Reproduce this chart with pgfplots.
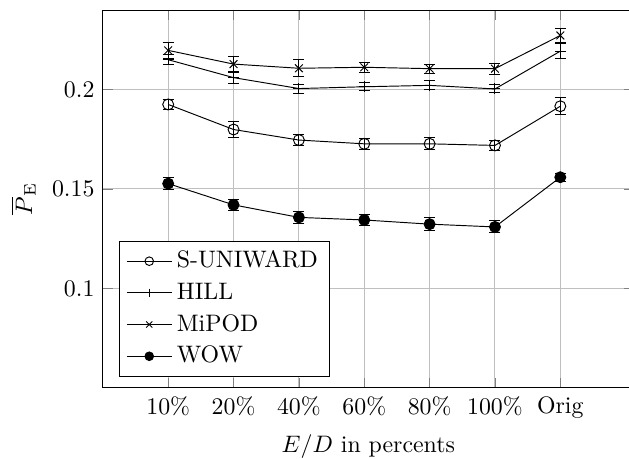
\documentclass[border=0pt]{standalone}
\usepackage{pgfplots}
\usepackage{pgfplotstable}
\pgfplotsset{compat=1.18}

\pgfplotstableread{
x y e
0 0.1925 0.0025
1 0.1799 0.0040
2 0.1746 0.0028
3 0.1727 0.0027
4 0.1727 0.0030
5 0.1719 0.0025
6 0.1916 0.0042
}\suniward
\pgfplotstableread{
x y e
0 0.2150 0.0025
1 0.2060 0.0030
2 0.2005 0.0023
3 0.2014 0.0020
4 0.2021 0.0023
5 0.2003 0.0020
6 0.2193 0.0039
}\hill
\pgfplotstableread{
x y e
0 0.2197 0.0039
1 0.2128 0.0040
2 0.2107 0.0042
3 0.2112 0.0025
4 0.2105 0.0023
5 0.2105 0.0027
6 0.2272 0.0037
}\mipod
\pgfplotstableread{
x y e
0 0.1527 0.0030
1 0.1420 0.0028
2 0.1357 0.0030
3 0.1344 0.0030
4 0.1323 0.0033
5 0.1309 0.0030
6 0.1559 0.0020
}\wow

\begin{document}
\begin{tikzpicture}
\begin{axis}[
  name=ax,
  scale only axis,
  width=222.75pt, height=158.5pt,
  xmin=-1, xmax=7.124,
  ymin=0.05, ymax=0.24,
  xtick={0,1,2,3,4,5,6},
  xticklabels={10\%,20\%,40\%,60\%,80\%,100\%,Orig},
  ytick={0.1,0.15,0.2},
  grid=major,
  xlabel={$E/D$ in percents},
  ylabel={$\overline{P}_{\mathrm{E}}$},
  legend pos=south west,
  legend cell align=left,
  legend style={font=\normalsize, row sep=0.8pt},
  legend image code/.code={\draw[mark repeat=2, mark phase=2, #1] plot coordinates {(0cm,0cm) (0.33cm,0cm) (0.66cm,0cm)};},
  legend image post style={mark size=1.8pt},
]
\addplot[black, mark=o, mark size=2.3pt, error bars/.cd, y dir=both, y explicit]
  table[x=x, y=y, y error=e] {\suniward};
\addlegendentry{S-UNIWARD}
\addplot[black, mark=+, mark size=2.3pt, error bars/.cd, y dir=both, y explicit]
  table[x=x, y=y, y error=e] {\hill};
\addlegendentry{HILL}
\addplot[black, mark=x, mark size=2.3pt, error bars/.cd, y dir=both, y explicit]
  table[x=x, y=y, y error=e] {\mipod};
\addlegendentry{MiPOD}
\addplot[black, mark=*, mark size=2.3pt, mark options={fill=black}, error bars/.cd, y dir=both, y explicit]
  table[x=x, y=y, y error=e] {\wow};
\addlegendentry{WOW}
\end{axis}
\pgfresetboundingbox
\path[use as bounding box] ([xshift=-43.15pt, yshift=-29.7pt]ax.south west) rectangle ([xshift=-2pt, yshift=4.2pt]ax.north east);
\end{tikzpicture}
\end{document}
